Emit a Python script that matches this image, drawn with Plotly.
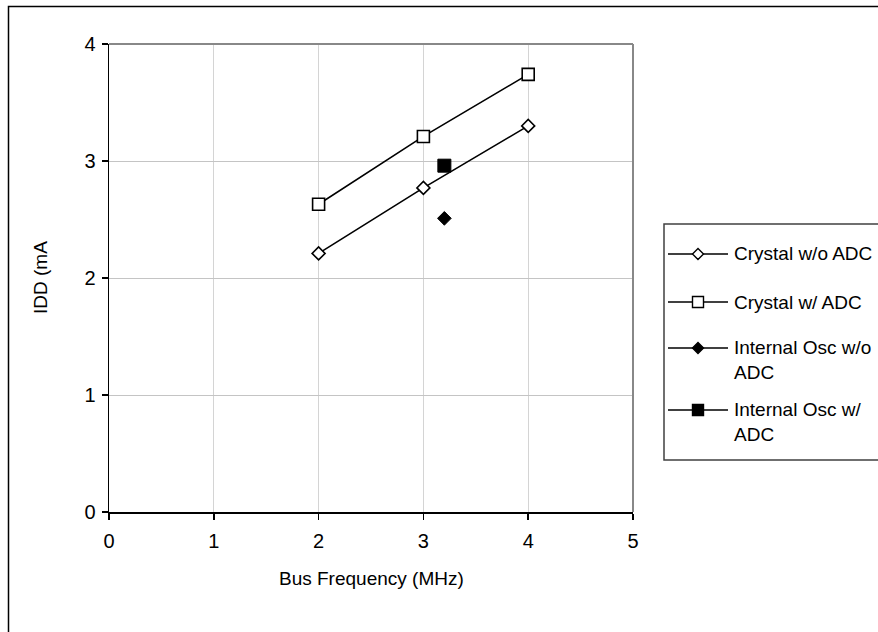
import plotly.graph_objects as go

# ---- data ----
freq_crystal = [2, 3, 4]
idd_crystal_no_adc = [2.21, 2.77, 3.30]
idd_crystal_adc = [2.63, 3.21, 3.74]
freq_internal = [3.2]
idd_internal_no_adc = [2.51]
idd_internal_adc = [2.96]
series_names = ["Crystal w/o ADC", "Crystal w/ ADC",
                "Internal Osc w/o<br>ADC", "Internal Osc w/<br>ADC"]
x_ticks = [0, 1, 2, 3, 4, 5]
y_ticks = [0, 1, 2, 3, 4]

W, H = 878, 632
FONT = "Liberation Sans, Arial, sans-serif"

# plot-area pixel box
PX0, PX1 = 109, 633
PY_TOP, PY_BOT = 44, 512


def fx(px):
    return px / W


def fy(py):
    return 1 - py / H


fig = go.Figure()

styles = [
    dict(symbol="diamond", size=10, color="white", lw=1.6),
    dict(symbol="square", size=12, color="white", lw=1.6),
    dict(symbol="diamond", size=10.5, color="black", lw=1),
    dict(symbol="square", size=13, color="black", lw=1),
]
xs = [freq_crystal, freq_crystal, freq_internal, freq_internal]
ys = [idd_crystal_no_adc, idd_crystal_adc, idd_internal_no_adc, idd_internal_adc]

for name, x, y, st in zip(series_names, xs, ys, styles):
    fig.add_trace(go.Scatter(
        x=x, y=y, name=name.replace("<br>", " "),
        mode="lines+markers", showlegend=False,
        line=dict(color="black", width=1.6),
        marker=dict(symbol=st["symbol"], size=st["size"], color=st["color"],
                    line=dict(color="black", width=st["lw"]))))

# ---- legend drawn as decoration ----
LEG_L, LEG_T, LEG_B = 664, 224, 460
first_line_y = [254, 302, 348, 410]
text_center_y = [254, 302, 360, 422]
KEY_X0, KEY_X1, KEY_C = 668, 728, 698
TEXT_X = 732

shapes = [
    # top and right plot-area border (gray)
    dict(type="line", xref="paper", yref="paper",
         x0=fx(PX0), x1=fx(PX1), y0=fy(PY_TOP), y1=fy(PY_TOP),
         line=dict(color="#888888", width=2)),
    dict(type="line", xref="paper", yref="paper",
         x0=fx(PX1), x1=fx(PX1), y0=fy(PY_TOP), y1=fy(PY_BOT),
         line=dict(color="#888888", width=2)),
    # outer chart border (left and top visible)
    dict(type="rect", xref="paper", yref="paper",
         x0=fx(8.5), x1=1.02, y0=-0.02, y1=fy(6.5),
         line=dict(color="black", width=1.5), layer="below"),
    # legend box
    dict(type="rect", xref="paper", yref="paper",
         x0=fx(LEG_L), x1=1.02, y0=fy(LEG_B), y1=fy(LEG_T),
         line=dict(color="#404040", width=1.5), fillcolor="white"),
]
annotations = [
    dict(text="Bus Frequency (MHz)", x=fx(371), y=fy(578),
         xref="paper", yref="paper", showarrow=False,
         xanchor="center", yanchor="middle",
         font=dict(family=FONT, size=19, color="black")),
    dict(text="IDD (mA", x=fx(40), y=fy(278), textangle=-90,
         xref="paper", yref="paper", showarrow=False,
         xanchor="center", yanchor="middle",
         font=dict(family=FONT, size=19, color="black")),
]

for i, (name, st) in enumerate(zip(series_names, styles)):
    ky = first_line_y[i]
    shapes.append(dict(type="line", xref="paper", yref="paper",
                       x0=fx(KEY_X0), x1=fx(KEY_X1), y0=fy(ky), y1=fy(ky),
                       line=dict(color="black", width=1.5)))
    h = 5.5
    if st["symbol"] == "diamond":
        path = f"M {-h} 0 L 0 {h} L {h} 0 L 0 {-h} Z"
        shapes.append(dict(type="path", xref="paper", yref="paper",
                           xsizemode="pixel", ysizemode="pixel",
                           xanchor=fx(KEY_C), yanchor=fy(ky), path=path,
                           fillcolor=st["color"],
                           line=dict(color="black", width=1.4)))
    else:
        shapes.append(dict(type="rect", xref="paper", yref="paper",
                           xsizemode="pixel", ysizemode="pixel",
                           xanchor=fx(KEY_C), yanchor=fy(ky),
                           x0=-h, x1=h, y0=-h, y1=h,
                           fillcolor=st["color"],
                           line=dict(color="black", width=1.4)))
    annotations.append(dict(text=name, x=fx(TEXT_X), y=fy(text_center_y[i]),
                            xref="paper", yref="paper", showarrow=False,
                            xanchor="left", yanchor="middle", align="left",
                            font=dict(family=FONT, size=19, color="black")))

fig.update_layout(
    width=W, height=H,
    margin=dict(l=0, r=0, t=0, b=0, autoexpand=False),
    paper_bgcolor="white", plot_bgcolor="white",
    font=dict(family=FONT, size=19, color="black"),
    showlegend=False,
    xaxis=dict(
        domain=[fx(PX0), fx(PX1)], range=[0, 5],
        tickvals=x_ticks, ticktext=[str(v) for v in x_ticks],
        ticks="outside", ticklen=6, tickwidth=1.5, tickcolor="black",
        showline=True, linecolor="black", linewidth=1.5,
        showgrid=True, gridcolor="#d4d4d4", gridwidth=1,
        zeroline=False, ticklabelstandoff=4,
        tickfont=dict(family=FONT, size=20, color="black"),
        fixedrange=True,
    ),
    yaxis=dict(
        domain=[fy(PY_BOT), fy(PY_TOP)], range=[0, 4],
        tickvals=y_ticks, ticktext=[str(v) for v in y_ticks],
        ticks="outside", ticklen=6, tickwidth=1.5, tickcolor="black",
        showline=True, linecolor="black", linewidth=1.5,
        showgrid=True, gridcolor="#c4c4c4", gridwidth=1,
        zeroline=False, ticklabelstandoff=2,
        tickfont=dict(family=FONT, size=20, color="black"),
        fixedrange=True,
    ),
    annotations=annotations,
    shapes=shapes,
)

fig.write_html(
    "out.html",
    config={"displayModeBar": False, "staticPlot": True},
    post_script="document.body.style.margin='0';document.body.style.overflow='hidden';",
)
